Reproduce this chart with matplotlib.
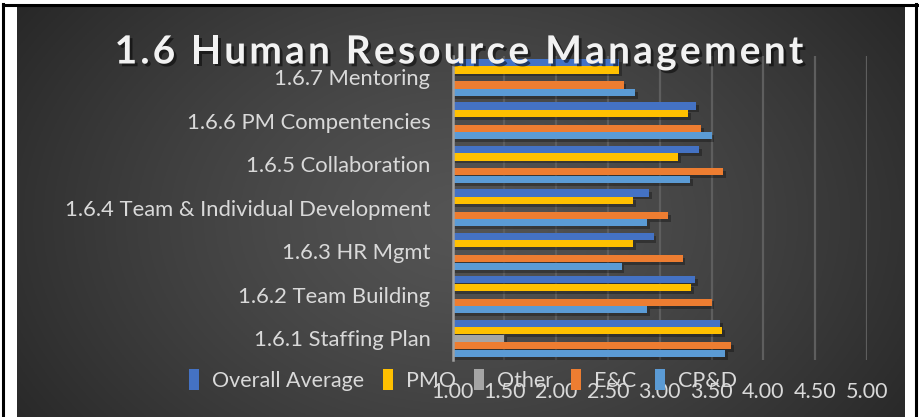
import numpy as np
import matplotlib
matplotlib.use("Agg")
import matplotlib.pyplot as plt
import matplotlib.patheffects as pe
from matplotlib.lines import Line2D
from matplotlib.patches import Patch

# data, bottom category first
categories = ["1.6.1 Staffing Plan", "1.6.2 Team Building", "1.6.3 HR Mgmt",
              "1.6.4 Team & Individual Development", "1.6.5 Collaboration",
              "1.6.6 PM Compentencies", "1.6.7 Mentoring"]
overall = [3.58, 3.34, 2.94, 2.90, 3.38, 3.35, 2.61]
pmo = [3.60, 3.30, 2.74, 2.74, 3.18, 3.27, 2.61]
other = [1.50, np.nan, np.nan, np.nan, np.nan, np.nan, np.nan]
enc = [3.69, 3.50, 3.22, 3.08, 3.61, 3.40, 2.65]
cpd = [3.63, 2.88, 2.63, 2.88, 3.29, 3.50, 2.76]
series_names = ["Overall Average", "PMO", "Other", "E&C", "CP&D"]
colors = ["#4472C4", "#FFC000", "#A5A5A5", "#ED7D31", "#5B9BD5"]
xticks = [1.0, 1.5, 2.0, 2.5, 3.0, 3.5, 4.0, 4.5, 5.0]

plt.rcParams["font.family"] = ["Lato", "DejaVu Sans"]
txt_col = "#d9d9d9"

W, H = 920, 417
fig = plt.figure(figsize=(W / 100, H / 100), dpi=100, facecolor="white")

# outer frame lines (page border)
fig.add_artist(Line2D([3 / W, 3 / W], [0, 1 - 4 / H], color="black", lw=2.2, transform=fig.transFigure))
fig.add_artist(Line2D([916 / W, 916 / W], [0, 1 - 4 / H], color="black", lw=2.2, transform=fig.transFigure))
fig.add_artist(Line2D([3 / W, 917 / W], [1 - 4.5 / H, 1 - 4.5 / H], color="black", lw=2.2, transform=fig.transFigure))

# dark radial background
bg = fig.add_axes([17 / W, 0, (905 - 17) / W, (H - 6) / H])
bg.set_axis_off()
ny, nx = 200, 440
yy, xx = np.mgrid[0:ny, 0:nx]
cx, cy = nx * 0.50, ny * 0.52
r = np.sqrt(((xx - cx) / (nx * 0.62)) ** 2 + ((yy - cy) / (ny * 0.95)) ** 2)
r = np.clip(r, 0, 1)
c_in, c_out = 0.33, 0.15
grey = c_in + (c_out - c_in) * r ** 1.3
bg.imshow(np.dstack([grey, grey, grey]), aspect="auto", extent=[0, 1, 0, 1], origin="upper")
bg.set_xlim(0, 1)
bg.set_ylim(0, 1)

# main axes
ax = fig.add_axes([452.7 / W, 1 - 360 / H, (867 - 452.7) / W, (360 - 55.75) / H])
ax.set_facecolor("none")
y = np.arange(len(categories))
step = 0.172
shadow = [pe.SimplePatchShadow(offset=(2, -2), shadow_rgbFace="black", alpha=0.3), pe.Normal()]
for i, (vals, name, col) in enumerate(zip([overall, pmo, other, enc, cpd], series_names, colors)):
    vals = np.array(vals, dtype=float)
    pos = y + (2 - i) * step
    ax.barh(pos, vals - 1.0, left=1.0, height=0.165, color=col, label=name,
            zorder=3, path_effects=shadow)

ax.set_xlim(1, 5)
ax.set_ylim(-0.5, len(categories) - 0.5)
ax.set_xticks(xticks)
ax.set_xticklabels([f"{t:.2f}" for t in xticks])
ax.set_yticks(y)
ax.set_yticklabels(categories)
ax.tick_params(axis="x", length=0, pad=16, labelsize=15.5, labelcolor=txt_col)
ax.tick_params(axis="y", length=0, pad=16, labelsize=15.8, labelcolor=txt_col)
for t in xticks[1:]:
    ax.axvline(t, color="#5e5e5e", lw=1.6, zorder=1)
for s in ["top", "right", "bottom"]:
    ax.spines[s].set_visible(False)
ax.spines["left"].set_color("#a0a0a0")
ax.spines["left"].set_linewidth(1.8)
ax.spines["left"].set_zorder(4)

# legend
handles = [Patch(facecolor=c, edgecolor="none") for c in colors]
leg = fig.legend(handles, series_names, loc="center", bbox_to_anchor=(463 / W, 1 - 380 / H),
                 ncol=5, frameon=False, fontsize=15.5, handlelength=0.47, handleheight=1.1,
                 handletextpad=0.6, columnspacing=0.85, labelcolor=txt_col)

# letter-spaced title with shadow
title = "1.6 Human Resource Management"
tsize = 28
spacing = 3.2  # px between chars
renderer = fig.canvas.get_renderer()

def text_w(s):
    t = fig.text(0, 0, s, fontsize=tsize, fontweight="bold")
    w = t.get_window_extent(renderer).width
    t.remove()
    return w

bar_w = text_w("|")
offs = [text_w(title[:i] + "|") - bar_w if i > 0 else 0.0 for i in range(len(title))]
total = text_w(title) + spacing * (len(title) - 1)
x0 = 459 - total / 2
tshadow = [pe.SimplePatchShadow(offset=(2, -2), shadow_rgbFace="black", alpha=0.5), pe.Normal()]
for i, ch in enumerate(title):
    if ch == " ":
        continue
    fig.text((x0 + offs[i] + spacing * i) / W, 1 - 52 / H, ch, fontsize=tsize, fontweight="bold",
             color="#f2f2f2", va="center", ha="left", path_effects=tshadow)

fig.savefig("out.png", dpi=100, facecolor="white")
